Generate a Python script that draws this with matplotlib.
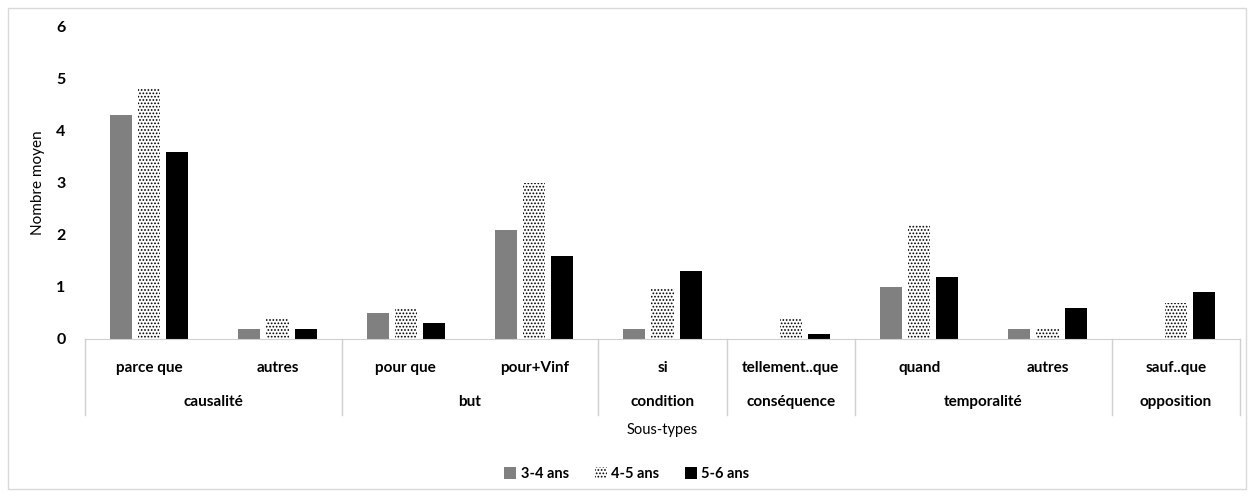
import numpy as np
import matplotlib.pyplot as plt
import matplotlib.patches as patches

plt.rcParams['font.family'] = ['Lato', 'DejaVu Sans']
plt.rcParams['hatch.linewidth'] = 0.8

# data
sous_types = ['parce que', 'autres', 'pour que', 'pour+Vinf', 'si',
              'tellement..que', 'quand', 'autres', 'sauf..que']
groupes = ['causalité', 'but', 'condition', 'conséquence', 'temporalité', 'opposition']
taille_groupes = [2, 2, 1, 1, 2, 1]
series = ['3-4 ans', '4-5 ans', '5-6 ans']
ans_3_4 = [4.3, 0.2, 0.5, 2.1, 0.2, 0.0, 1.0, 0.2, 0.0]
ans_4_5 = [4.8, 0.4, 0.58, 3.0, 0.97, 0.4, 2.2, 0.2, 0.7]
ans_5_6 = [3.6, 0.2, 0.3, 1.6, 1.3, 0.1, 1.2, 0.6, 0.9]

W, H = 1254, 497
fig = plt.figure(figsize=(W / 100, H / 100), dpi=100)
ax = fig.add_axes([85 / W, 1 - 339 / H, (1240 - 85) / W, (339 - 27) / H])

x = np.arange(len(sous_types))
bw = 0.172
step = 0.22
b1 = ax.bar(x - step, ans_3_4, bw, color='#808080', label=series[0])
b2 = ax.bar(x, ans_4_5, bw, facecolor='white', edgecolor='black', linewidth=0,
            hatch='.....', label=series[1])
b3 = ax.bar(x + step, ans_5_6, bw, color='black', label=series[2])

ax.set_xlim(-0.5, len(sous_types) - 0.5)
ax.set_ylim(0, 6)
ax.set_yticks(range(7))
ax.tick_params(axis='y', length=0, pad=14, labelsize=11.5)
for lab in ax.get_yticklabels():
    lab.set_fontweight('bold')
ax.set_xticks([])
for s in ['top', 'right', 'left']:
    ax.spines[s].set_visible(False)
ax.spines['bottom'].set_color('#d0d0d0')
ax.set_ylabel('Nombre moyen', fontsize=11, labelpad=8)

# multi-level category axis
tr = ax.get_xaxis_transform()
gris = '#d0d0d0'
for i, lab in enumerate(sous_types):
    ax.text(i, -0.093, lab, transform=tr, ha='center', va='center',
            fontsize=11, fontweight='bold', clip_on=False)
bornes = np.concatenate([[0], np.cumsum(taille_groupes)]) - 0.5
for b in bornes:
    ax.plot([b, b], [0, -0.244], transform=tr, color=gris, lw=1, clip_on=False)
for g, a, b in zip(groupes, bornes[:-1], bornes[1:]):
    ax.text((a + b) / 2, -0.202, g, transform=tr, ha='center', va='center',
            fontsize=11, fontweight='bold', clip_on=False)
ax.text(0.5, -0.292, 'Sous-types', transform=ax.transAxes, ha='center',
        va='center', fontsize=10.5)

leg = fig.legend(handles=[b1, b2, b3], loc='center', bbox_to_anchor=(0.5, 1 - 474 / H),
                 ncol=3, frameon=False, prop={'weight': 'bold', 'size': 10.5},
                 handlelength=0.8, handleheight=0.8, handletextpad=0.3,
                 columnspacing=1.8)

# outer chart border
fig.patches.append(patches.Rectangle((8 / W, 1 - 489 / H), (1246 - 8) / W, (489 - 8) / H,
                                     transform=fig.transFigure, fill=False,
                                     edgecolor='#d9d9d9', lw=1))

fig.savefig('out.png', dpi=100)
